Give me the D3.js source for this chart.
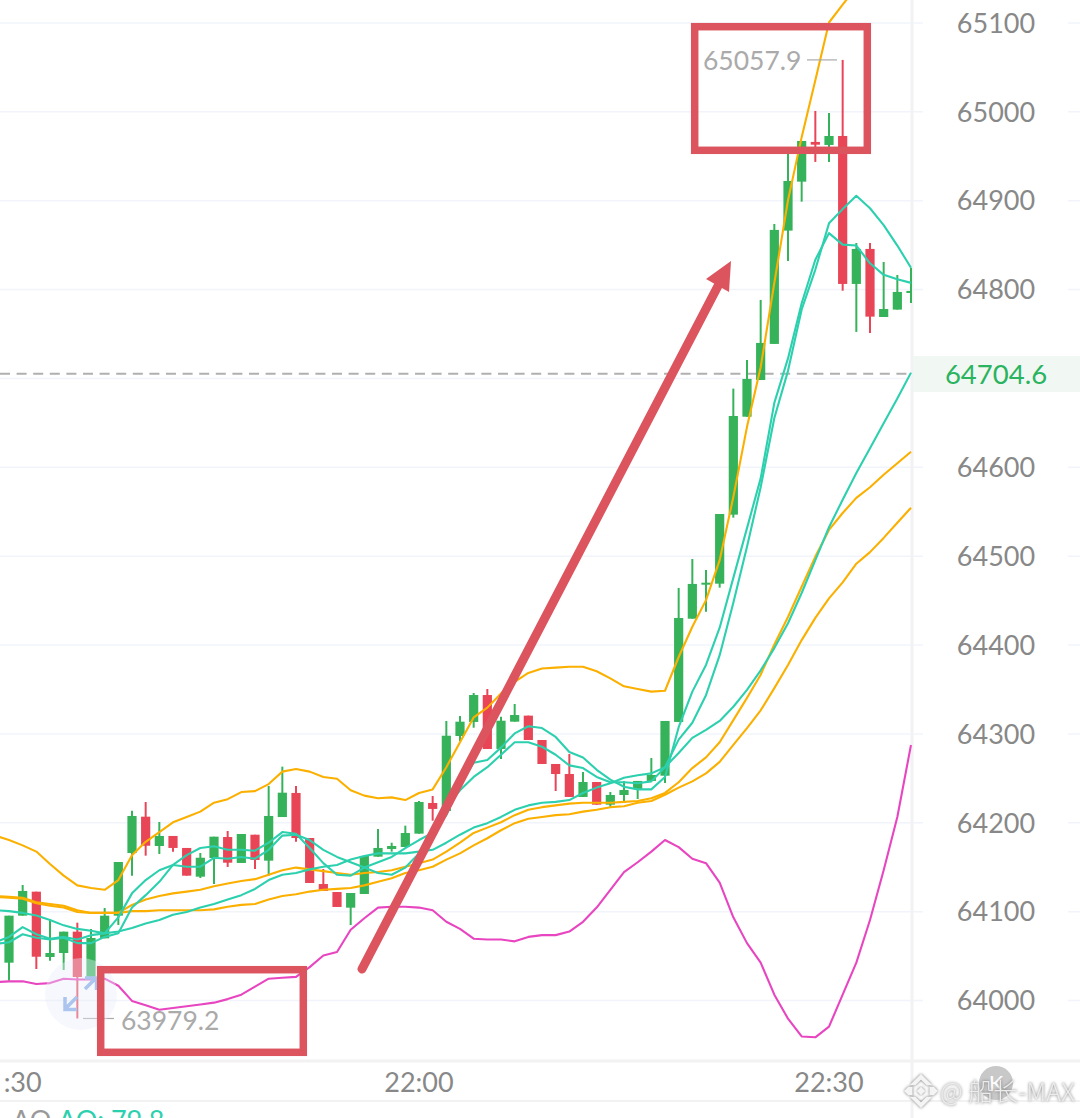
<!DOCTYPE html>
<html>
<head>
<meta charset="utf-8">
<script src="https://cdn.jsdelivr.net/npm/d3@7"></script>
<style>
    html, body { margin: 0; padding: 0; background: #fff; overflow: hidden; }
    svg { display: block; }
    text { font-family: Lato, Roboto, sans-serif; }
</style>
</head>
<body>
<svg id="chart" width="1080" height="1118"></svg>
<script>
// All prices below are kept as an offset from this base so the lists stay short
const base = 64000;

const yTicks = [65100, 65000, 64900, 64800, 64700, 64600, 64500, 64400, 64300, 64200, 64100, 64000];
const timeLabels = [":30", "22:00", "22:30"];
const timeIndex = [1, 30, 60];
const lastPrice = 64704.6;
const highMark = 65057.9;
const lowMark = 63979.2;

// Candles, one per minute, first one is 21:30
const opens = [42, 94.9, 121.9, 48.4, 52.9, 76.9, 26.2, 69.4, 94.9, 165.4, 206.3, 173.3, 184.6, 171.1, 138.8, 159.8, 183.4, 154.2, 186, 156.8, 205.9, 233, 182.3, 130.5, 121.5, 103.9, 119.3, 161.3, 169.9, 172.2, 187.2, 221.7, 212.7, 297.1, 312.9, 343.2, 282.5, 313.2, 320, 292.6, 265.6, 254.3, 228.5, 245.3, 219.8, 230.7, 237.5, 246.5, 252.4, 312.9, 429.1, 468.2, 468.5, 546.2, 656.4, 697.7, 738.3, 865.8, 920.9, 965.6, 962.2, 972.3, 805.8, 845.2, 768.6, 776.9, 796.8];
const highs = [94.9, 129.4, 121.9, 91.2, 76.9, 87, 79.9, 103.5, 155.3, 213, 222.8, 200.3, 184.6, 171.1, 165.4, 183.8, 190.2, 186.8, 186, 240.8, 262.6, 240.8, 182.3, 147.4, 121.5, 120.4, 162.1, 192.4, 177, 196.2, 224, 229.6, 314, 319.6, 345.5, 350, 318.8, 333.1, 320, 292.6, 265.6, 276.8, 256.6, 245.3, 234.1, 246.5, 246.5, 272.3, 314, 463.7, 496.3, 483.9, 546.9, 688, 720.3, 787.8, 873.3, 953.2, 966.7, 1000.5, 998.2, 1057.9, 851.9, 851.9, 830.5, 815.9, 823.8];
const lows = [21.7, 94.9, 34.9, 44.2, 33.8, -20.8, 26.2, 69.4, 84.4, 139.9, 162.4, 164.3, 166.9, 139.9, 137.3, 130.5, 149.7, 154.2, 147.4, 139.9, 205.9, 178.1, 131.7, 122.7, 104.7, 84.4, 119.3, 161.3, 166.9, 172.2, 187.2, 201.8, 212.7, 291.5, 306.4, 282.5, 271.2, 313.2, 292.6, 265.6, 235.2, 228.5, 228.5, 219.8, 216.1, 224, 226.2, 246.5, 244.2, 312.9, 429.1, 437, 464, 542.8, 656.4, 697.7, 738.3, 831.7, 898.4, 943.1, 943.1, 798.2, 751.8, 750.6, 768.6, 776.9, 784.4];
const closes = [94.9, 122.7, 48.7, 52.9, 76.9, 25.9, 69.8, 94.9, 155.3, 207.1, 173.6, 184.6, 171.1, 139.9, 160.1, 183.8, 154.5, 186.8, 157.6, 207.1, 233.3, 182.3, 131.7, 122.7, 104.7, 120.4, 162.1, 171.1, 173.3, 187.9, 222.8, 215, 297.4, 313.2, 343.2, 282.5, 314.3, 320.7, 292.6, 265.6, 254.3, 228.5, 245.3, 219.8, 230.7, 236.3, 246.5, 253.2, 314, 429.9, 468.2, 469.6, 546.9, 657.2, 698.9, 739.4, 866.6, 921.7, 966.7, 962.5, 972.3, 805.8, 845.2, 769, 777.6, 796.8, 797.9];

// Overlay lines, first value sits one candle before 21:30
const bandUpper = [185, 180, 174, 167, 153, 140, 129, 126, 124, 135, 163, 178, 189, 200, 206, 212, 222, 226, 234, 235, 243, 257, 260, 257, 251, 249, 236, 230, 227, 228, 225, 233, 237, 262, 290, 318, 329, 345, 358, 368, 373, 374, 375, 375, 370, 362, 353, 350, 347, 348, 386, 420, 450, 495, 566, 645, 712, 807, 900, 971, 1035, 1100, 1120, 1140];
const orangeA = [117, 116, 115, 110, 108, 106, 101, 98, 98, 98, 107, 113, 117, 120, 122, 124, 128, 131, 134, 136, 141, 146, 149, 147, 145, 143, 141, 143, 144, 146, 150, 154, 158, 167, 177, 188, 194, 200, 208, 214, 217, 219, 221, 222, 222, 222, 223, 224, 227, 233, 245, 261, 273, 290, 315, 340, 366, 400, 431, 465, 499, 529, 548, 565, 577, 591, 604, 617];
const orangeB = [116, 115, 114, 109, 106, 104, 99, 98, 98, 98, 100, 100, 101, 101, 101, 101, 102, 105, 107, 108, 113, 117, 119, 122, 124, 125, 126, 129, 133, 137, 143, 146, 150, 158, 165, 174, 182, 191, 199, 204, 206, 208, 209, 212, 214, 217, 218, 222, 224, 231, 239, 246, 255, 268, 287, 306, 326, 351, 377, 405, 430, 452, 470, 491, 504, 520, 537, 554];
const tealLong = [101, 100, 98, 95, 90, 84, 80, 78, 75, 77, 81, 86, 90, 96, 99, 104, 108, 113, 118, 125, 135, 141, 143, 147, 150, 152, 158, 162, 165, 165, 165, 167, 169, 177, 186, 194, 199, 206, 214, 219, 222, 223, 225, 233, 239, 244, 250, 253, 255, 262, 278, 295, 304, 314, 330, 349, 371, 396, 424, 458, 495, 532, 563, 593, 621, 649, 677, 706];
const tealFast = [65, 71, 82, 74, 69, 71, 68, 73, 75, 93, 120, 135, 146, 152, 163, 171, 173, 169, 169, 168, 177, 189, 187, 171, 154, 141, 140, 149, 155, 161, 171, 180, 188, 208, 242, 267, 270, 284, 300, 308, 306, 296, 279, 273, 259, 248, 240, 237, 237, 251, 307, 347, 377, 419, 475, 531, 587, 672, 722, 784, 833, 863, 850, 849, 829, 816, 811, 807];
const tealSlow = [63, 65, 74, 70, 68, 70, 64, 64, 71, 75, 104, 118, 133, 152, 150, 150, 160, 159, 161, 159, 169, 185, 186, 180, 169, 161, 155, 149, 143, 141, 149, 165, 183, 217, 236, 251, 262, 276, 290, 290, 285, 276, 264, 261, 251, 245, 245, 244, 246, 262, 293, 312, 343, 388, 447, 510, 577, 655, 708, 777, 822, 874, 890, 905, 891, 872, 849, 824];
const pinkLine = [20, 21, 21, 18, 19, 24, 23, 23, 24, 16, -1, -6, -11, -9, -7, -5, -3, 1, 6, 15, 24, 25, 26, 37, 50, 54, 79, 92, 104, 105, 105, 104, 101, 88, 80, 69, 68, 68, 66, 71, 73, 73, 77, 88, 104, 124, 144, 155, 167, 180, 172, 159, 154, 132, 93, 64, 42, 6, -21, -41, -42, -30, 6, 42, 90, 146, 206, 287];

const width = 1080;
const height = 1118;
const plotRight = 912;
const plotBottom = 1061;

const green = "#36b35a";
const red = "#e84557";
const orange = "#fbb000";
const teal = "#2dd0ae";
const pink = "#e845c0";
const marker = "#dc555e";

const xScale = d3.scaleLinear().domain([0, 66]).range([9, 911]);
const yScale = d3.scaleLinear().domain([64000, 65100]).range([1000, 22.5]);

const svg = d3.select("#chart");

svg.append("defs").append("clipPath").attr("id", "plot")
    .append("rect").attr("x", 0).attr("y", 0).attr("width", plotRight).attr("height", plotBottom);

// y axis and grid
const yAxis = d3.axisRight(yScale)
    .tickValues(yTicks)
    .tickSize(width)
    .tickFormat(d => d);

const axisGroup = svg.append("g").call(yAxis);
axisGroup.select(".domain").remove();
axisGroup.selectAll("line").attr("stroke", "#f1f4fa").attr("stroke-width", 1.5);
axisGroup.selectAll(".tick").insert("rect", "text")
    .attr("x", 923).attr("y", -16).attr("width", 145).attr("height", 32).attr("fill", "#fff");
axisGroup.selectAll(".tick text")
    .attr("x", 996).attr("dy", "0.36em")
    .attr("text-anchor", "middle")
    .attr("fill", "#888888")
    .style("font-size", "27px")
    .style("font-family", "Lato, Roboto, sans-serif");
axisGroup.selectAll(".tick").filter(d => d === 64700).select("text").remove();
axisGroup.selectAll(".tick").filter(d => d === 64700).select("rect").remove();

// frame
svg.append("line").attr("x1", plotRight).attr("x2", plotRight).attr("y1", 0).attr("y2", height)
    .attr("stroke", "#f2f2f4").attr("stroke-width", 3);
svg.append("line").attr("x1", 0).attr("x2", width).attr("y1", plotBottom).attr("y2", plotBottom)
    .attr("stroke", "#f2f2f2").attr("stroke-width", 3);
svg.append("line").attr("x1", 0).attr("x2", width).attr("y1", 1101).attr("y2", 1101)
    .attr("stroke", "#f2f2f2").attr("stroke-width", 2);

// time labels
svg.append("g").selectAll("text").data(timeLabels).enter().append("text")
    .attr("x", (d, i) => xScale(timeIndex[i]))
    .attr("y", 1092)
    .attr("text-anchor", "middle")
    .attr("fill", "#888888")
    .style("font-size", "27px")
    .text(d => d);

// last price
svg.append("rect").attr("x", plotRight + 1).attr("y", 356).attr("width", width - plotRight).attr("height", 36)
    .attr("fill", "#f1f8f4");
svg.append("text")
    .attr("x", 996).attr("y", yScale(lastPrice)).attr("dy", "0.36em")
    .attr("text-anchor", "middle")
    .attr("fill", "#2bb35f")
    .style("font-size", "27.5px")
    .text(lastPrice.toFixed(1));

const plot = svg.append("g").attr("clip-path", "url(#plot)");

plot.append("line")
    .attr("x1", 0).attr("x2", plotRight)
    .attr("y1", yScale(lastPrice)).attr("y2", yScale(lastPrice))
    .attr("stroke", "#b0b0b0").attr("stroke-width", 2).attr("stroke-dasharray", "10 6.6");

// candles
const candleColor = i => closes[i] >= opens[i] ? green : red;

plot.append("g").selectAll("line").data(d3.range(opens.length)).enter().append("line")
    .attr("x1", i => xScale(i))
    .attr("x2", i => xScale(i))
    .attr("y1", i => yScale(base + highs[i]))
    .attr("y2", i => yScale(base + lows[i]))
    .attr("stroke", candleColor)
    .attr("stroke-width", 2);

plot.append("g").selectAll("rect").data(d3.range(opens.length)).enter().append("rect")
    .attr("x", i => xScale(i) - 4.6)
    .attr("width", 9.2)
    .attr("y", i => yScale(base + Math.max(opens[i], closes[i])))
    .attr("height", i => Math.max(2, Math.abs(yScale(base + opens[i]) - yScale(base + closes[i]))))
    .attr("fill", candleColor);

// overlay lines
const lineGen = d3.line()
    .x((d, i) => xScale(i - 1))
    .y(d => yScale(base + d));

[[pinkLine, pink], [bandUpper, orange], [orangeA, orange], [orangeB, orange],
 [tealLong, teal], [tealSlow, teal], [tealFast, teal]].forEach(([values, color]) => {
    plot.append("path")
        .attr("d", lineGen(values))
        .attr("fill", "none")
        .attr("stroke", color)
        .attr("stroke-width", 2.1)
        .attr("stroke-linejoin", "round");
});

// high and low labels
svg.append("line").attr("x1", 807).attr("x2", 837)
    .attr("y1", yScale(highMark)).attr("y2", yScale(highMark))
    .attr("stroke", "#aaaaaa").attr("stroke-width", 1.2);
svg.append("text").attr("x", 703).attr("y", yScale(highMark) + 1).attr("dy", "0.36em")
    .attr("fill", "#aaaaaa").style("font-size", "26.5px").text(highMark.toFixed(1));
svg.append("line").attr("x1", 83).attr("x2", 114)
    .attr("y1", yScale(lowMark)).attr("y2", yScale(lowMark))
    .attr("stroke", "#aaaaaa").attr("stroke-width", 1.2);
svg.append("text").attr("x", 121).attr("y", yScale(lowMark) + 2).attr("dy", "0.36em")
    .attr("fill", "#aaaaaa").style("font-size", "26.5px").text(lowMark.toFixed(1));

// expand icon
const icon = svg.append("g");
icon.append("circle").attr("cx", 81).attr("cy", 994).attr("r", 36).attr("fill", "#e8eefb").attr("opacity", 0.4);
icon.append("path")
    .attr("d", "M77,997L65,1009M65,997V1009.5H77M85,989L96,978M85,978H96.5V990")
    .attr("fill", "none").attr("stroke", "#abc5ee").attr("stroke-width", 3.5);

// hand drawn boxes and arrow
svg.append("rect").attr("x", 694.7).attr("y", 26.7).attr("width", 172.6).attr("height", 123.6)
    .attr("fill", "none").attr("stroke", marker).attr("stroke-width", 7.5);
svg.append("rect").attr("x", 100.7).attr("y", 969.7).attr("width", 202.6).attr("height", 82.6)
    .attr("fill", "none").attr("stroke", marker).attr("stroke-width", 7.5);
svg.append("line").attr("x1", 362).attr("y1", 969).attr("x2", 719).attr("y2", 284)
    .attr("stroke", marker).attr("stroke-width", 9).attr("stroke-linecap", "round");
svg.append("path").attr("d", "M731,261L706,279L729,292Z").attr("fill", marker);

// bottom indicator row, cut by the screenshot edge
const bottomText = svg.append("text").attr("x", 12).attr("y", 1130).style("font-size", "27px");
bottomText.append("tspan").attr("fill", "#999999").text("AO");
bottomText.append("tspan").attr("fill", "#2dd0ae").attr("dx", 7).text("AO: 79.8");

// watermark
svg.append("circle").attr("cx", 996).attr("cy", 1083).attr("r", 17).attr("fill", "#c8c8c8");
svg.append("text").attr("x", 996).attr("y", 1091).attr("text-anchor", "middle")
    .attr("fill", "#fff").style("font-size", "22px").text("K");
const mark = svg.append("g").style("filter", "drop-shadow(0 0 1.5px #707070)");
const logo = mark.append("g").attr("transform", "translate(921,1091) rotate(45)").attr("fill", "#f4f4f4");
logo.append("rect").attr("x", -3).attr("y", -3).attr("width", 6).attr("height", 6);
logo.append("path").attr("d", "M-12,-12H4L0,-8H-8V0L-12,4ZM12,12H-4L0,8H8V0L12,-4Z");
logo.append("path").attr("d", "M6,-12H12V-6L9,-3L3,-9ZM-6,12H-12V6L-9,3L-3,9Z");
mark.append("text").attr("x", 940).attr("y", 1101)
    .attr("fill", "#ececec")
    .style("font-size", "25px")
    .style("font-family", "'Noto Sans CJK SC', Lato, sans-serif")
    .style("font-weight", 300)
    .text("@ 船长-MAX");
</script>
</body>
</html>
